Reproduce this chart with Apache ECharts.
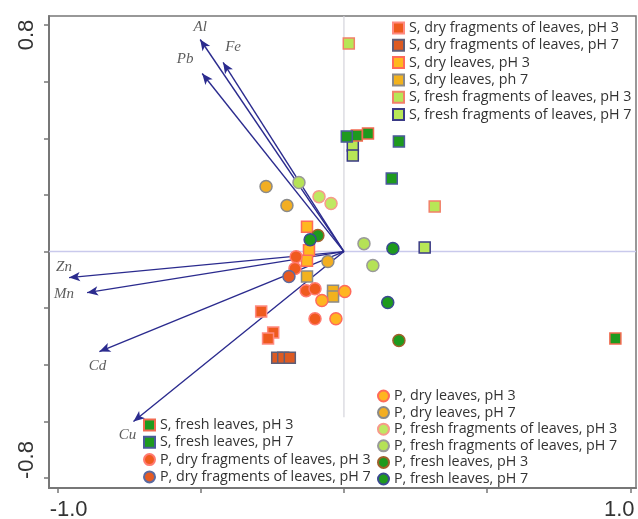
<!DOCTYPE html>
<html><head><meta charset="utf-8">
<script src="https://cdn.jsdelivr.net/npm/echarts@6/dist/echarts.min.js"></script>
<style>html,body{margin:0;padding:0;background:#fff}#c{width:638px;height:519px}</style>
</head><body><div id="c"></div>
<script>
// Tick labels
const xTickLabels = [-1.0, 1.0];
const yTickLabels = [-0.8, 0.8];
const xTicks = [-1.0, -0.5, 0, 0.5, 1.0];
const yTicks = [-0.8, -0.6, -0.4, -0.2, 0, 0.2, 0.4, 0.6, 0.8];

// Loadings (arrows)
const loadingNames = ['Al', 'Fe', 'Pb', 'Zn', 'Mn', 'Cd', 'Cu'];
const loadingX = [-0.502, -0.422, -0.495, -0.96, -0.897, -0.854, -0.735];
const loadingY = [0.749, 0.668, 0.629, -0.092, -0.145, -0.353, -0.600];

// Scores, one array per group
const sDryFragPH3 = [[-0.289, -0.212], [-0.247, -0.286], [-0.265, -0.307]];
const sDryFragPH7 = [[-0.233, -0.375], [-0.212, -0.375], [-0.189, -0.375]];
const sDryLeafPH3 = [[-0.129, 0.088], [-0.122, 0.005], [-0.129, -0.032]];
const sDryLeafPH7 = [[-0.129, -0.088], [-0.038, -0.138], [-0.038, -0.159]];
const sFreshFragPH3 = [[0.017, 0.735], [0.317, 0.159]];
const sFreshFragPH7 = [[0.031, 0.375], [0.031, 0.339], [0.282, 0.014]];
const sFreshLeafPH3 = [[0.045, 0.41], [0.084, 0.417], [0.948, -0.307]];
const sFreshLeafPH7 = [[0.010, 0.406], [0.192, 0.389], [0.167, 0.258]];
const pDryFragPH3 = [[-0.167, -0.018], [-0.171, -0.060], [-0.132, -0.138], [-0.101, -0.131], [-0.101, -0.237]];
const pDryFragPH7 = [[-0.192, -0.088]];
const pDryLeafPH3 = [[-0.077, -0.173], [0.003, -0.141], [-0.028, -0.237]];
const pDryLeafPH7 = [[-0.272, 0.23], [-0.199, 0.163], [-0.056, -0.035]];
const pFreshFragPH3 = [[-0.087, 0.194], [-0.045, 0.170]];
const pFreshFragPH7 = [[-0.157, 0.244], [0.070, 0.028], [0.101, -0.049]];
const pFreshLeafPH3 = [[-0.091, 0.057], [0.192, -0.314]];
const pFreshLeafPH7 = [[-0.118, 0.042], [0.171, 0.011], [0.153, -0.180]];

const names = [
  'S, dry fragments of leaves, pH 3', 'S, dry fragments of leaves, pH 7',
  'S, dry leaves, pH 3', 'S, dry leaves, ph 7',
  'S, fresh fragments of leaves, pH 3', 'S, fresh fragments of leaves, pH 7',
  'S, fresh leaves, pH 3', 'S, fresh leaves, pH 7',
  'P, dry fragments of leaves, pH 3', 'P, dry fragments of leaves, pH 7',
  'P, dry leaves, pH 3', 'P, dry leaves, pH 7',
  'P, fresh fragments of leaves, pH 3', 'P, fresh fragments of leaves, pH 7',
  'P, fresh leaves, pH 3', 'P, fresh leaves, pH 7'
];
const datasets = [sDryFragPH3, sDryFragPH7, sDryLeafPH3, sDryLeafPH7, sFreshFragPH3, sFreshFragPH7, sFreshLeafPH3, sFreshLeafPH7,
  pDryFragPH3, pDryFragPH7, pDryLeafPH3, pDryLeafPH7, pFreshFragPH3, pFreshFragPH7, pFreshLeafPH3, pFreshLeafPH7];

// styles
const fills = ['#EE5A1E', '#DD5A22', '#FFB81E', '#F2B21E', '#B8E656', '#B8E656', '#1E9A1E', '#1E9A1E',
  '#F05A1E', '#E65A22', '#FFB520', '#F2AE22', '#BFE862', '#B5E256', '#1E9A1E', '#1E9A1E'];
const borders = ['#FF8A80', '#5E5E78', '#FF6A5A', '#8A8A8A', '#F2806A', '#3A3A86', '#F26A50', '#4A5A9A',
  '#FF7A70', '#5A6AA0', '#FF6A5A', '#8A8A8A', '#F79A8A', '#9A9A9A', '#A0602A', '#3A4A90'];

const series = [];
// zero lines
series.push({type: 'line', data: [[-1.03, 0], [1.02, 0]], symbol: 'none', silent: true, z: 1,
  lineStyle: {color: '#C9C9EC', width: 1.5}});
series.push({type: 'line', data: [[0, 0.832], [0, -0.585]], symbol: 'none', silent: true, z: 1,
  lineStyle: {color: '#D4D4DC', width: 1.2}});

// arrows
const labelOffsets = {Al: [0, -12], Fe: [10, -15], Pb: [-17, -14], Zn: [-5, -11], Mn: [-23, 1], Cd: [-2, 15], Cu: [-6, 14]};
series.push({
  type: 'scatter', symbolSize: 0, silent: true, z: 2,
  data: loadingNames.map((n, i) => ({value: [loadingX[i], loadingY[i]], name: n,
    label: {show: true, formatter: n, position: 'inside', offset: labelOffsets[n],
      fontFamily: 'Liberation Serif', fontStyle: 'italic', fontSize: 15, color: '#333'}})),
  markLine: {
    silent: true, symbol: ['none', 'arrow'], symbolSize: [7, 11], animation: false,
    label: {show: false},
    lineStyle: {color: '#2B2B8E', width: 1.4, type: 'solid'},
    data: loadingNames.map((n, i) => [{coord: [0, 0]}, {coord: [loadingX[i], loadingY[i]]}])
  }
});

names.forEach((n, i) => {
  series.push({
    name: n, type: 'scatter', z: 5,
    symbol: i < 8 ? 'rect' : 'circle',
    symbolSize: i < 8 ? 11 : 12,
    data: datasets[i],
    itemStyle: {color: fills[i], borderColor: borders[i], borderWidth: 1.5, opacity: 1}
  });
});

const legendCommon = {
  orient: 'vertical', selectedMode: false, itemWidth: 11, itemHeight: 11, itemTextGap: 5,
  textStyle: {fontFamily: 'Open Sans', fontSize: 14.3, color: '#333', lineHeight: 13}, padding: 0
};

const axisFont = {fontFamily: 'Liberation Sans', fontSize: 22, color: '#333'};

const option = {
  animation: false,
  grid: {left: 49, right: 2, top: 16, bottom: 31, show: true, borderColor: '#777', borderWidth: 1.5,
    outerBoundsMode: 'none', containLabel: false},
  legend: [
    Object.assign({}, legendCommon, {left: 392, top: 21, itemGap: 3.3, data: names.slice(0, 6).map(n => ({name: n, icon: 'rect'}))}),
    Object.assign({}, legendCommon, {left: 143, top: 418, itemGap: 3.3, data: names.slice(6, 10).map((n, k) => ({name: n, icon: k < 2 ? 'rect' : 'circle'}))}),
    Object.assign({}, legendCommon, {left: 377, top: 389, itemGap: 2.6, data: names.slice(10).map(n => ({name: n, icon: 'circle'}))})
  ],
  xAxis: {
    type: 'value', min: -1.03, max: 1.02, splitLine: {show: false},
    axisLine: {onZero: false, lineStyle: {color: '#777', width: 2}},
    axisTick: {show: true, customValues: xTicks, length: 5, lineStyle: {color: '#777', width: 1.5}},
    axisLabel: {customValues: xTickLabels, hideOverlap: false, margin: 11,
      formatter: v => (v < 0 ? '{lo|' : '{hi|') + v.toFixed(1) + '}',
      rich: {lo: Object.assign({padding: [0, 0, 0, 22]}, axisFont), hi: Object.assign({padding: [0, 22, 0, 0]}, axisFont)}}
  },
  yAxis: {
    type: 'value', min: -0.835, max: 0.832, splitLine: {show: false},
    axisLine: {onZero: false, lineStyle: {color: '#777', width: 2}},
    axisTick: {show: true, customValues: yTicks, length: 5, lineStyle: {color: '#777', width: 1.5}},
    axisLabel: {customValues: yTickLabels, hideOverlap: false, rotate: 90, margin: 11,
      formatter: v => (v < 0 ? '{lo|' : '{hi|') + v.toFixed(1) + '}',
      rich: {lo: Object.assign({padding: [0, 0, 0, 36]}, axisFont), hi: Object.assign({padding: [0, 20, 0, 0]}, axisFont)}}
  },
  series: series
};
const chart = echarts.init(document.getElementById('c'));
chart.setOption(option);
</script></body></html>
